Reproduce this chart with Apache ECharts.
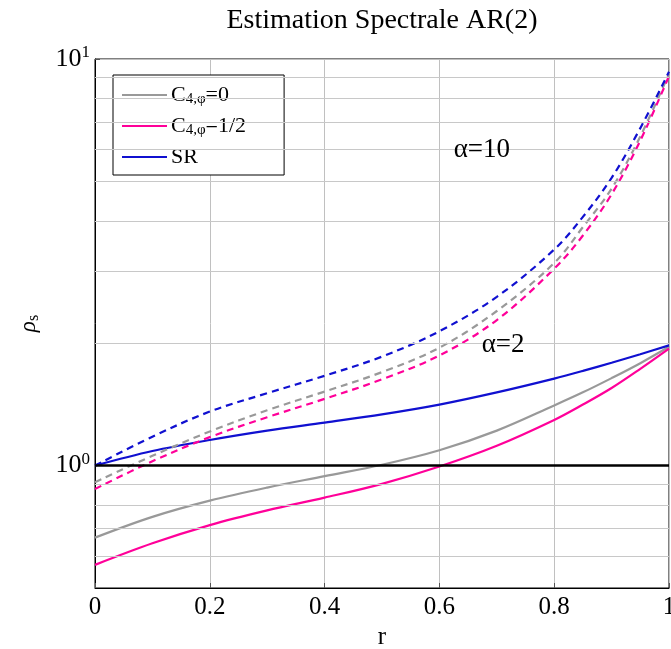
<!DOCTYPE html>
<html><head><meta charset="utf-8">
<script src="https://cdn.jsdelivr.net/npm/echarts@6/dist/echarts.min.js"></script>
<style>html,body{margin:0;padding:0;background:#fff}#c{width:671px;height:649px}</style>
</head><body><div id="c"></div>
<script>
const r = [0, 0.1, 0.2, 0.3, 0.4, 0.5, 0.6, 0.7, 0.8, 0.85, 0.9, 0.95, 1];
// alpha = 2 (solid)
const c0_a2  = [0.665, 0.748, 0.82, 0.883, 0.942, 1.005, 1.091, 1.219, 1.406, 1.514, 1.641, 1.786, 1.96];
const c12_a2 = [0.57, 0.644, 0.714, 0.776, 0.834, 0.902, 0.995, 1.119, 1.295, 1.413, 1.552, 1.73, 1.94];
const sr_a2  = [1.0, 1.086, 1.156, 1.219, 1.276, 1.337, 1.413, 1.514, 1.637, 1.71, 1.791, 1.879, 1.975];
// alpha = 10 (dashed)
const c0_a10  = [0.91, 1.057, 1.213, 1.368, 1.521, 1.698, 1.95, 2.4, 3.15, 3.86, 4.8, 6.45, 9.2];
const c12_a10 = [0.876, 1.025, 1.175, 1.315, 1.459, 1.63, 1.866, 2.28, 3.05, 3.68, 4.65, 6.3, 9.08];
const sr_a10  = [1.0, 1.178, 1.358, 1.507, 1.663, 1.854, 2.14, 2.6, 3.4, 4.09, 5.1, 6.76, 9.3];
const minorGrid = [0.6, 0.7, 0.8, 0.9, 2, 3, 4, 5, 6, 7, 8, 9];
const names = ['C4phi0', 'C4phi12', 'SR'];
const legendLabels = {C4phi0: '{a|C}{s|4,\u03c6}{a|=0}', C4phi12: '{a|C}{s|4,\u03c6}{a|=1/2}', SR: '{a|SR}'};
const annotations = [{text: '\u03b1=10', x: 0.674, y: 5.97}, {text: '\u03b1=2', x: 0.711, y: 1.98}];

const FONT = '"Liberation Serif", "DejaVu Serif", serif';
const colors = {C4phi0: '#999999', C4phi12: '#ff0099', SR: '#1010d0'};
const pair = (ys) => r.map((x, i) => [x, ys[i]]);

const chart = echarts.init(document.getElementById('c'), null, {renderer: 'canvas'});
const solid = (name, ys) => ({
  name, type: 'line', data: pair(ys), symbol: 'none', smooth: 0.35, z: 3,
  lineStyle: {color: colors[name], width: 2.2, type: 'solid'}, itemStyle: {color: colors[name]}
});
const dashed = (name, ys) => ({
  name: name + '_a10', type: 'line', data: pair(ys), symbol: 'none', smooth: 0.35, z: 3,
  lineStyle: {color: colors[name], width: 2.2, type: [7, 5]}, itemStyle: {color: colors[name]}
});

chart.setOption({
  animation: false,
  backgroundColor: '#fff',
  title: {text: 'Estimation Spectrale AR(2)', left: 382, textAlign: 'center', top: 7, padding: 0,
    textStyle: {fontFamily: FONT, fontSize: 28, fontWeight: 'normal', color: '#000'}},
  grid: {left: 95, right: 2, top: 59, bottom: 61, show: true, borderColor: '#000', borderWidth: 1,
    outerBoundsMode: 'none', containLabel: false},
  legend: {
    data: names, orient: 'vertical', left: 113, top: 75,
    backgroundColor: '#fff', borderColor: '#000', borderWidth: 1,
    padding: [9, 38, 7, 9], itemGap: 8, itemWidth: 45, itemHeight: 2, icon: 'rect',
    itemStyle: {borderWidth: 0},
    formatter: (n) => legendLabels[n],
    textStyle: {fontFamily: FONT, color: '#000', padding: [0, 0, 0, -1],
      rich: {a: {fontFamily: FONT, fontSize: 22, color: '#000', lineHeight: 24},
             s: {fontFamily: FONT, fontSize: 15, color: '#000', verticalAlign: 'bottom', lineHeight: 24}}}
  },
  xAxis: {
    type: 'value', min: 0, max: 1, interval: 0.2,
    name: 'r', nameLocation: 'middle', nameGap: 37,
    nameTextStyle: {fontFamily: FONT, fontSize: 25, color: '#000'},
    axisLine: {lineStyle: {color: '#000', width: 1}},
    axisTick: {inside: true, length: 5, lineStyle: {color: '#555'}},
    axisLabel: {fontFamily: FONT, fontSize: 25, color: '#000', margin: 7},
    splitLine: {show: true, lineStyle: {color: '#c0c0c0', width: 1}}
  },
  yAxis: {
    type: 'log', logBase: 10, min: 0.5, max: 10,
    name: '{r|\u03c1}{s|s}', nameLocation: 'middle', nameGap: 53, nameRotate: 90,
    nameTextStyle: {fontFamily: FONT, color: '#000',
      rich: {r: {fontFamily: FONT, fontSize: 23, fontStyle: 'italic', color: '#000', lineHeight: 26},
             s: {fontFamily: FONT, fontSize: 16, color: '#000', verticalAlign: 'bottom', lineHeight: 26}}},
    axisLine: {lineStyle: {color: '#000', width: 1}},
    axisTick: {inside: true, length: 5, lineStyle: {color: '#555'}},
    axisLabel: {
      showMinLabel: false, margin: 5,
      formatter: (v) => Math.abs(v - 1) < 1e-9 ? '{b|10}{p|0}' : (Math.abs(v - 10) < 1e-9 ? '{b|10}{p|1}' : ''),
      rich: {b: {fontFamily: FONT, fontSize: 26, color: '#000', lineHeight: 30},
             p: {fontFamily: FONT, fontSize: 17, color: '#000', verticalAlign: 'top', lineHeight: 30}}
    },
    splitLine: {show: true, lineStyle: {color: '#c0c0c0', width: 1}}
  },
  series: [
    {
      name: 'grid_minor', type: 'line', data: [], symbol: 'none', silent: true, z: 1,
      markLine: {silent: true, symbol: 'none', label: {show: false}, animation: false,
        lineStyle: {color: '#c8c8c8', width: 1, type: 'solid'},
        data: minorGrid.map(v => ({yAxis: v}))}
    },
    {
      name: 'ref_line', type: 'line', data: [], symbol: 'none', silent: true, z: 2,
      markLine: {silent: true, symbol: 'none', label: {show: false}, animation: false,
        lineStyle: {color: '#000', width: 2.5, type: 'solid'},
        data: [{yAxis: 1}]},
      markPoint: {silent: true, symbol: 'circle', symbolSize: 0, animation: false,
        label: {show: true, position: 'inside', fontFamily: FONT, fontSize: 27, color: '#000',
          formatter: (p) => p.name},
        data: annotations.map(a => ({name: a.text, coord: [a.x, a.y]}))}
    },
    solid('C4phi0', c0_a2), solid('C4phi12', c12_a2), solid('SR', sr_a2),
    dashed('C4phi0', c0_a10), dashed('C4phi12', c12_a10), dashed('SR', sr_a10)
  ]
});
</script></body></html>
